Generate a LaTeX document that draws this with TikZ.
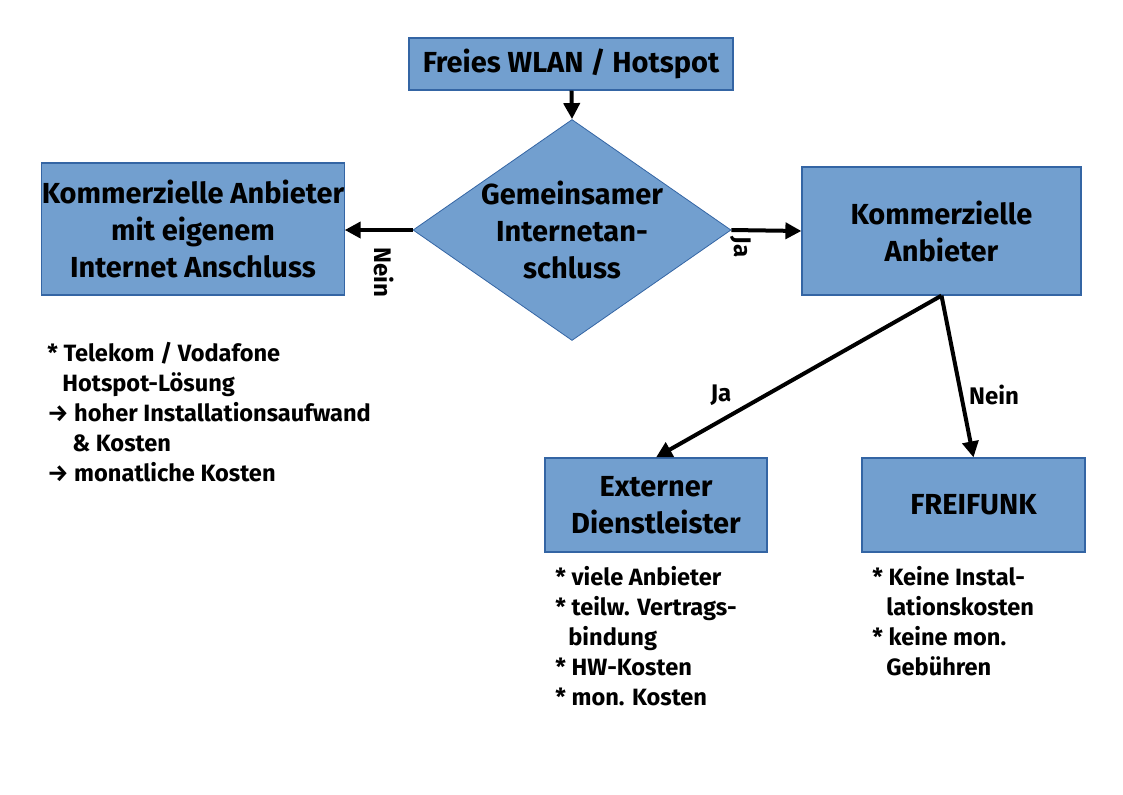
\documentclass[tikz,border=0pt]{standalone}
\usepackage{fontspec}
\setmainfont{Fira Sans}
\usetikzlibrary{shapes.geometric, arrows.meta}

\definecolor{boxblue}{HTML}{729FCF}
\definecolor{boxline}{HTML}{3465A4}

\tikzset{
  box/.style={draw=boxline, fill=boxblue, line width=0.6pt, inner sep=0pt, align=center, font=\bfseries\fontsize{14.5}{18.5}\selectfont},
  pfeil/.style={line width=2pt, -{Triangle[length=8pt, width=8pt]}},
  liste/.style={anchor=north west, inner sep=0pt, align=left, font=\bfseries\fontsize{11.8}{15}\selectfont},
  lbl/.style={inner sep=0pt, font=\bfseries\fontsize{12}{13}\selectfont}
}

\begin{document}
\begin{tikzpicture}[x=0.5pt, y=-0.5pt]
        \useasboundingbox (0,0) rectangle (1123,794);
        \node [box, minimum width=162pt, minimum height=26pt] (wlan) at (571,64) {Freies WLAN / Hotspot};
        \node [draw=boxline, fill=boxblue, shape=diamond, inner sep=0pt, minimum width=159pt, minimum height=110.5pt] (frage) at (572,230) {};
        \node [box, draw=none, fill=none] (fragetext) at (572,230) {Gemeinsamer\\Internetan-\\schluss};
        \node [box, minimum width=151pt, minimum height=66pt] (eigen) at (193,229) {Kommerzielle Anbieter\\mit eigenem\\Internet Anschluss};
        \node [box, minimum width=139.5pt, minimum height=64pt] (komm) at (941.5,231) {Kommerzielle\\Anbieter};
        \node [box, minimum width=111pt, minimum height=47pt] (extern) at (656,505) {Externer\\Dienstleister};
        \node [box, minimum width=111.5pt, minimum height=47pt] (freifunk) at (973.5,505) {FREIFUNK};

        \draw [pfeil] (wlan) -- (frage.north);
        \draw [pfeil] (frage.west) -- (eigen.east |- frage.west);
        \draw [pfeil] (frage.east) -- (komm.west);
        \draw [pfeil] (komm.south) -- (extern.north);
        \draw [pfeil] (komm.south) -- (freifunk.north);

        \node [lbl, rotate=-90] (nein1) at (384,272) {Nein};
        \node [lbl, rotate=-90] (ja1) at (741,247) {Ja};
        \node [lbl] (ja2) at (721,395) {Ja};
        \node [lbl] (nein2) at (994,395) {Nein};

        \node [liste] (l1) at (47,342) {* Telekom / Vodafone\\\hspace{7.5pt}Hotspot-Lösung\\→ hoher Installationsaufwand\\\hspace{12.5pt}\& Kosten\\→ monatliche Kosten};
        \node [liste] (l2) at (555,566) {* viele Anbieter\\* teilw. Vertrags-\\\hspace{6.5pt}bindung\\* HW-Kosten\\* mon. Kosten};
        \node [liste] (l3) at (872,566) {* Keine Instal-\\\hspace{7pt}lationskosten\\* keine mon.\\\hspace{7pt}Gebühren};
      \end{tikzpicture}
\end{document}
